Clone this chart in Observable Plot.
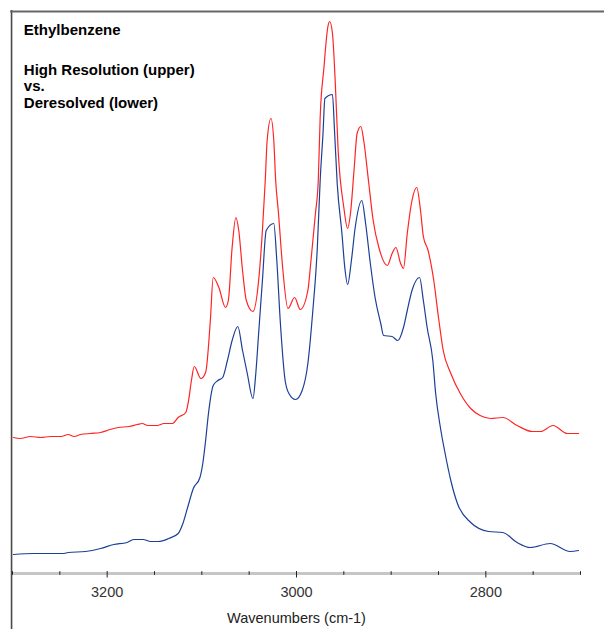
<!DOCTYPE html>
<html><head><meta charset="utf-8">
<script src="https://cdn.jsdelivr.net/npm/d3@7"></script>
<script src="https://cdn.jsdelivr.net/npm/@observablehq/plot@0.6"></script>
<style>html,body{margin:0;padding:0;background:#fff;} svg{display:block}</style>
</head><body><div id="chart"></div>
<script>
// High resolution spectrum (upper, red): wavenumbers (cm-1) and relative absorbance
const redWavenumbers = [3299,3292,3281,3270,3260,3249,3241,3235,3228,3218,3207,3197,3188,3177,3168,3163,3157,3147,3140,3131,3125,3117,3114,3111,3108,3101,3096,3091,3088,3082,3075,3072,3068,3064,3061,3057,3053,3046,3040,3036,3033,3031,3027,3024,3022,3019,3015,3009,3002,2996,2988,2985,2980,2977,2975,2971,2967,2965,2962,2959,2956,2950,2946,2943,2939,2936,2932,2929,2924,2919,2913,2904,2899,2895,2890,2887,2883,2878,2873,2869,2866,2861,2855,2850,2845,2837,2827,2816,2806,2795,2782,2767,2751,2742,2729,2714,2702];
const redValues = [136,135,137,136,137,137,139,137,139,140,141,144,146,147,149,150,148,148,150,150,156,161,173,193,207,195,201,253,296,286,266,273,326,356,343,303,273,262,293,343,393,433,455,433,393,360,310,265,276,264,283,310,360,393,456,506,546,552,540,490,423,366,345,360,406,440,447,433,393,353,326,308,320,326,310,305,340,373,386,363,337,323,293,256,223,200,180,165,158,155,156,148,142,142,148,140,140];

// Deresolved spectrum (lower, blue)
const blueWavenumbers = [3299,3278,3247,3241,3223,3207,3193,3179,3172,3162,3154,3146,3135,3125,3120,3115,3109,3102,3099,3096,3093,3088,3083,3078,3073,3068,3062,3057,3052,3046,3043,3040,3036,3032,3024,3021,3017,3012,3008,3001,2994,2988,2983,2978,2975,2972,2970,2962,2960,2957,2952,2949,2946,2942,2938,2931,2927,2922,2917,2911,2908,2899,2893,2887,2883,2878,2870,2866,2862,2856,2853,2848,2843,2837,2830,2816,2797,2782,2767,2753,2732,2711,2702];
const blueValues = [19,20,20,21,22,25,29,31,34,34,32,32,35,40,50,66,85,96,110,133,160,188,193,196,213,233,247,223,200,175,200,240,293,343,350,316,250,193,180,174,183,210,260,326,393,440,475,479,446,390,340,306,289,313,346,373,350,310,276,250,238,237,233,246,263,283,296,273,246,213,180,146,120,93,70,51,42,41,31,26,30,22,23];

const axisTicks = [3300,3250,3200,3150,3100,3050,3000,2950,2900,2850,2800,2750,2700];
const tickLabels = [3200,3000,2800];
const chartTitle = "Ethylbenzene";
const chartSubtitle = "High Resolution (upper)\nvs.\nDeresolved (lower)";
const xLabel = "Wavenumbers (cm-1)";

const red = redWavenumbers.map((w, i) => ({w, v: redValues[i]}));
const blue = blueWavenumbers.map((w, i) => ({w, v: blueValues[i]}));
const minor = axisTicks.filter(t => !tickLabels.includes(t));

const chart = Plot.plot({
  width: 604,
  height: 629,
  marginLeft: 12,
  marginRight: 24,
  marginTop: 10,
  marginBottom: 56,
  style: {fontFamily: "'Liberation Sans', Arial, sans-serif", background: "#fff"},
  x: {domain: [3300, 2700], axis: null},
  y: {domain: [0, 563], axis: null},
  marks: [
    // frame
    Plot.ruleX([3301], {y1: -60, y2: 563, stroke: "#4a4a4a", strokeWidth: 1.6}),
    Plot.ruleY([562], {x1: 3302, x2: 2660, stroke: "#666", strokeWidth: 2}),
    // axis band and ticks
    Plot.ruleY([0], {x1: 3300, x2: 2700, stroke: "#c6c6c6", strokeWidth: 3}),
    Plot.ruleX(minor, {y1: -1.8, y2: 1.8, stroke: "#222", strokeWidth: 1}),
    Plot.ruleX(tickLabels, {y1: -4.5, y2: 2, stroke: "#222", strokeWidth: 1}),
    Plot.text(tickLabels, {x: d => d, y: -18.5, text: d => String(d), fontSize: 14.5, fill: "#333"}),
    Plot.text([xLabel], {x: 3000, y: -45, text: d => d, fontSize: 14.5, fill: "#222"}),
    // spectra
    Plot.line(red, {x: "w", y: "v", curve: "monotone-x", stroke: "#ff2424", strokeWidth: 1.2}),
    Plot.line(blue, {x: "w", y: "v", curve: "monotone-x", stroke: "#1c3f96", strokeWidth: 1.2}),
    // titles
    Plot.text([chartTitle], {x: 3288, y: 549, text: d => d, textAnchor: "start", lineAnchor: "top", fontSize: 15, fontWeight: "bold", fill: "#000"}),
    Plot.text([chartSubtitle], {x: 3288, y: 511, text: d => d, textAnchor: "start", lineAnchor: "top", lineHeight: 1.13, fontSize: 15, fontWeight: "bold", fill: "#000"})
  ]
});
document.getElementById("chart").appendChild(chart);
</script>
</body></html>
